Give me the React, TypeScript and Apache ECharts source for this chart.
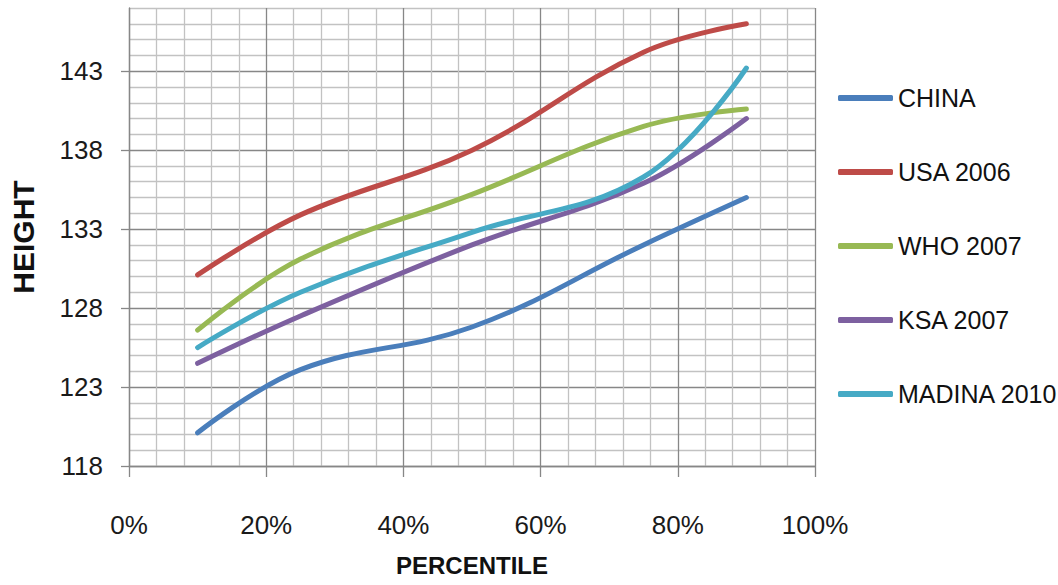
import React, { useEffect, useRef } from "react";
import * as echarts from "echarts";

const percentiles = [10, 25, 50, 75, 90];
const seriesNames = ["CHINA", "USA 2006", "WHO 2007", "KSA 2007", "MADINA 2010"];
const china = [120.1, 124.1, 126.8, 132.0, 135.0];
const usa2006 = [130.1, 133.9, 138.0, 144.2, 146.0];
const who2007 = [126.6, 131.1, 135.2, 139.5, 140.6];
const ksa2007 = [124.5, 127.5, 132.0, 135.9, 140.0];
const madina2010 = [125.5, 129.0, 132.8, 136.3, 143.2];
const yTickLabels = [118, 123, 128, 133, 138, 143];
const xTickLabels = [0, 20, 40, 60, 80, 100];
const colors = ["#4A7EBB", "#BE4B48", "#98B954", "#7D60A0", "#46AAC5"];

const FONT = "'Liberation Sans', Arial, sans-serif";
const MAJOR = "#878787";
const MINOR = "#c2c2c2";

export default function App() {
  const ref = useRef<HTMLDivElement>(null);
  useEffect(() => {
    if (!ref.current) return;
    const chart = echarts.init(ref.current, undefined, { renderer: "svg" });
    const values = [china, usa2006, who2007, ksa2007, madina2010];
    const gridLineColors = [MAJOR, MINOR, MINOR, MINOR, MINOR];
    chart.setOption({
      animation: false,
      backgroundColor: "#ffffff",
      color: colors,
      grid: { left: 125.5, top: 8, right: 243, bottom: 119, containLabel: false },
      legend: {
        orient: "vertical",
        left: 833,
        top: 78,
        itemGap: 44,
        itemWidth: 55,
        itemHeight: 6,
        icon: "roundRect",
        textStyle: { fontFamily: FONT, fontSize: 25, color: "#111", lineHeight: 30 },
        data: seriesNames,
      },
      xAxis: [
        {
          type: "value",
          min: 0,
          max: 100,
          interval: 4,
          axisLine: { show: false },
          axisTick: { show: false },
          axisLabel: { show: false },
          splitLine: { show: true, lineStyle: { color: gridLineColors, width: 1.3 } },
        },
        {
          type: "value",
          min: 0,
          max: 100,
          interval: 20,
          position: "bottom",
          name: "PERCENTILE",
          nameLocation: "middle",
          nameGap: 87,
          nameTextStyle: { fontFamily: FONT, fontSize: 24, fontWeight: "bold", color: "#111" },
          axisLine: { show: true, lineStyle: { color: MAJOR, width: 1.3 } },
          axisTick: { show: true, customValues: xTickLabels, length: 11, lineStyle: { color: MAJOR, width: 1.3 } },
          axisLabel: {
            customValues: xTickLabels,
            margin: 46,
            formatter: "{value}%",
            fontFamily: FONT,
            fontSize: 26,
            color: "#1a1a1a",
          },
          splitLine: { show: false },
        },
      ],
      yAxis: [
        {
          type: "value",
          min: 118,
          max: 147,
          interval: 1,
          axisLine: { show: false },
          axisTick: { show: false },
          axisLabel: { show: false },
          splitLine: { show: true, lineStyle: { color: gridLineColors, width: 1.3 } },
        },
        {
          type: "value",
          min: 118,
          max: 147,
          interval: 1,
          position: "left",
          name: "HEIGHT",
          nameLocation: "middle",
          nameRotate: 90,
          nameGap: 91,
          nameTextStyle: { fontFamily: FONT, fontSize: 30, fontWeight: "bold", color: "#111" },
          axisLine: { show: true, lineStyle: { color: MAJOR, width: 1.3 } },
          axisTick: { show: true, customValues: yTickLabels, length: 8, lineStyle: { color: MAJOR, width: 1.3 } },
          axisLabel: {
            customValues: yTickLabels,
            margin: 26,
            fontFamily: FONT,
            fontSize: 26,
            color: "#1a1a1a",
          },
          splitLine: { show: false },
        },
      ],
      series: seriesNames.map((name, i) => ({
        name,
        type: "line",
        xAxisIndex: 0,
        yAxisIndex: 0,
        smooth: 0.4,
        symbol: "none",
        lineStyle: { width: 5, color: colors[i], cap: "round" },
        itemStyle: { color: colors[i] },
        data: percentiles.map((p, j) => [p, values[i][j]]),
      })),
    });
    return () => chart.dispose();
  }, []);
  return (
    <div
      ref={ref}
      style={{ position: "fixed", left: 0, top: 0, width: 1058, height: 585, background: "#fff" }}
    />
  );
}
